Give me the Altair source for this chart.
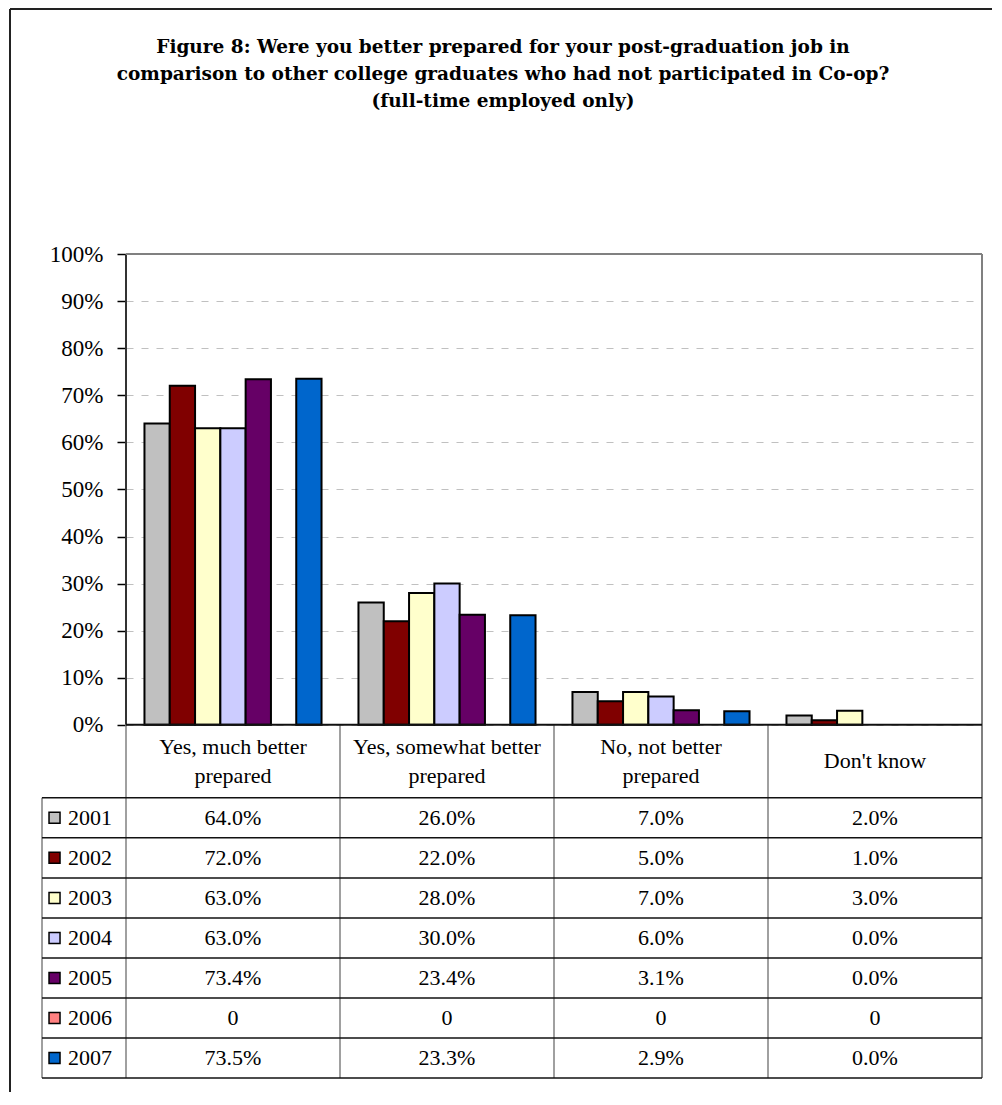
import altair as alt
import pandas as pd

# ---------------- data ----------------
categories = ["Yes, much better prepared", "Yes, somewhat better prepared",
              "No, not better prepared", "Don't know"]
header_labels = ["Yes, much better\nprepared", "Yes, somewhat better\nprepared",
                 "No, not better\nprepared", "Don't know"]
years = ["2001", "2002", "2003", "2004", "2005", "2006", "2007"]
v2001 = [64.0, 26.0, 7.0, 2.0]
v2002 = [72.0, 22.0, 5.0, 1.0]
v2003 = [63.0, 28.0, 7.0, 3.0]
v2004 = [63.0, 30.0, 6.0, 0.0]
v2005 = [73.4, 23.4, 3.1, 0.0]
v2006 = [0, 0, 0, 0]          # shown as "0" in the table (no data)
v2007 = [73.5, 23.3, 2.9, 0.0]
series = [v2001, v2002, v2003, v2004, v2005, v2006, v2007]
colors = ["#C0C0C0", "#800000", "#FFFFCC", "#CCCCFF", "#660066", "#FF8080", "#0066CC"]
title_lines = [
    "Figure 8:  Were you better prepared for your post-graduation job in",
    "comparison to other college graduates who had not participated in Co-op?",
    "(full-time employed only)",
]

# ---------------- layout constants ----------------
FONT = "Liberation Serif"
PX_PER_UNIT = 471.0
Y_MIN = -0.75
HEADER_BOTTOM = -0.155
ROW_H = 0.085
LABEL_LEFT = -0.3925
SWATCH_X = -0.334
YEAR_X = -0.271
HEADER_LH = 29
NCAT = len(categories)

# ---------------- tables ----------------
bar_rows, cell_rows, year_rows = [], [], []
for i, (yr, vals) in enumerate(zip(years, series)):
    ymid = HEADER_BOTTOM - ROW_H * (i + 0.5)
    year_rows.append({"year": yr, "sx": SWATCH_X, "tx": YEAR_X, "y": ymid})
    for j, (cat, v) in enumerate(zip(categories, vals)):
        bar_rows.append({"cat": cat, "year": yr, "value": v / 100.0})
        label = "0" if yr == "2006" else f"{v:.1f}%"
        cell_rows.append({"x": j + 0.5, "y": ymid, "label": label})
bars_df = pd.DataFrame(bar_rows)
cells_df = pd.DataFrame(cell_rows)
years_df = pd.DataFrame(year_rows)
header_y = [HEADER_BOTTOM / 2 + (lab.count("\n") * HEADER_LH / 2) / PX_PER_UNIT
            for lab in header_labels]
header_df = pd.DataFrame({"x": [j + 0.5 for j in range(NCAT)],
                          "y": header_y, "label": header_labels})

vlines = [
    {"x": 0, "y1": 0, "y2": 1, "c": "#333333", "w": 2},
    {"x": 0, "y1": Y_MIN, "y2": 0, "c": "#808080", "w": 1.5},
    {"x": NCAT, "y1": Y_MIN, "y2": 1, "c": "#808080", "w": 2},
    {"x": LABEL_LEFT, "y1": Y_MIN, "y2": HEADER_BOTTOM, "c": "#808080", "w": 1.5},
] + [{"x": j, "y1": Y_MIN, "y2": 0, "c": "#808080", "w": 1.5} for j in range(1, NCAT)]
vlines_df = pd.DataFrame(vlines)

hlines = [
    {"x1": 0, "x2": NCAT, "y": 1, "c": "#808080", "w": 2},
    {"x1": 0, "x2": NCAT, "y": 0, "c": "#111111", "w": 2},
] + [{"x1": LABEL_LEFT, "x2": NCAT, "y": HEADER_BOTTOM - ROW_H * k, "c": "#111111", "w": 1.5}
     for k in range(len(years) + 1)]
hlines_df = pd.DataFrame(hlines)

yscale = alt.Scale(domain=[Y_MIN, 1], nice=False, zero=False)
xq = alt.Scale(domain=[0, NCAT], nice=False, zero=False)
color_scale = alt.Scale(domain=years, range=colors)
y_axis = alt.Axis(values=[i / 10 for i in range(11)], format=".0%", title=None,
                  labelFont=FONT, labelFontSize=23, labelColor="black",
                  domain=False, ticks=True, tickColor="black", tickSize=9,
                  tickWidth=1.5, labelPadding=14, grid=True,
                  gridDash=[7, 8], gridColor="#c0c0c0", gridWidth=1.2)

# ---------------- bars ----------------
bars = alt.Chart(bars_df).transform_filter("datum.value > 0").mark_bar(
    stroke="black", strokeWidth=2, opacity=1
).encode(
    x=alt.X("cat:N", sort=categories, axis=None,
            scale=alt.Scale(domain=categories, paddingInner=0, paddingOuter=0)),
    xOffset=alt.XOffset("year:N",
                        scale=alt.Scale(domain=years, paddingInner=0, paddingOuter=0.73)),
    y=alt.Y("value:Q", scale=yscale, axis=y_axis),
    color=alt.Color("year:N", scale=color_scale, legend=None),
)

# ---------------- table & frame (shared quantitative x) ----------------
vrules = alt.Chart(vlines_df).mark_rule().encode(
    x=alt.X("x:Q", scale=xq, axis=None),
    y=alt.Y("y1:Q", scale=yscale, axis=y_axis), y2="y2:Q",
    color=alt.Color("c:N", scale=None),
    strokeWidth=alt.StrokeWidth("w:Q", scale=None),
)
hrules = alt.Chart(hlines_df).mark_rule().encode(
    x=alt.X("x1:Q", scale=xq, axis=None), x2="x2:Q",
    y=alt.Y("y:Q", scale=yscale, axis=y_axis),
    color=alt.Color("c:N", scale=None),
    strokeWidth=alt.StrokeWidth("w:Q", scale=None),
)
cells = alt.Chart(cells_df).mark_text(font=FONT, fontSize=22, color="black",
                                      align="center", baseline="middle").encode(
    x=alt.X("x:Q", scale=xq, axis=None),
    y=alt.Y("y:Q", scale=yscale, axis=y_axis),
    text="label:N",
)
headers = alt.Chart(header_df).mark_text(font=FONT, fontSize=22, color="black",
                                         align="center", baseline="middle",
                                         lineBreak="\n", lineHeight=HEADER_LH).encode(
    x=alt.X("x:Q", scale=xq, axis=None),
    y=alt.Y("y:Q", scale=yscale, axis=y_axis),
    text="label:N",
)
swatches = alt.Chart(years_df).mark_square(size=121, filled=True, stroke="black",
                                           strokeWidth=1.5, opacity=1).encode(
    x=alt.X("sx:Q", scale=xq, axis=None),
    y=alt.Y("y:Q", scale=yscale, axis=y_axis),
    color=alt.Color("year:N", scale=color_scale, legend=None),
)
year_text = alt.Chart(years_df).mark_text(font=FONT, fontSize=22, color="black",
                                          align="left", baseline="middle").encode(
    x=alt.X("tx:Q", scale=xq, axis=None),
    y=alt.Y("y:Q", scale=yscale, axis=y_axis),
    text="year:N",
)

one = pd.DataFrame({"k": [0]})
title = alt.Chart(one).mark_text(
    text="\n".join(title_lines), lineBreak="\n", lineHeight=27,
    font="DejaVu Serif", fontSize=18.5, fontWeight="bold",
    color="black", align="center", baseline="alphabetic",
).encode(x=alt.value(377), y=alt.value(-201))
border_left = alt.Chart(one).mark_rule(color="#222222", strokeWidth=2).encode(
    x=alt.value(-116), y=alt.value(-245), y2=alt.value(838))
border_top = alt.Chart(one).mark_rule(color="#222222", strokeWidth=2).encode(
    x=alt.value(-116), x2=alt.value(866), y=alt.value(-245))

table = alt.layer(vrules, hrules, cells, headers, swatches, year_text,
                  title, border_left, border_top)

chart = alt.layer(bars, table).resolve_scale(x="independent").properties(
    width=856, height=824,
    padding={"left": 1, "top": 0, "right": 0, "bottom": 0},
    background="white",
).configure_view(strokeWidth=0)

chart.save("out.html", embed_options={"renderer": "svg", "actions": False})
